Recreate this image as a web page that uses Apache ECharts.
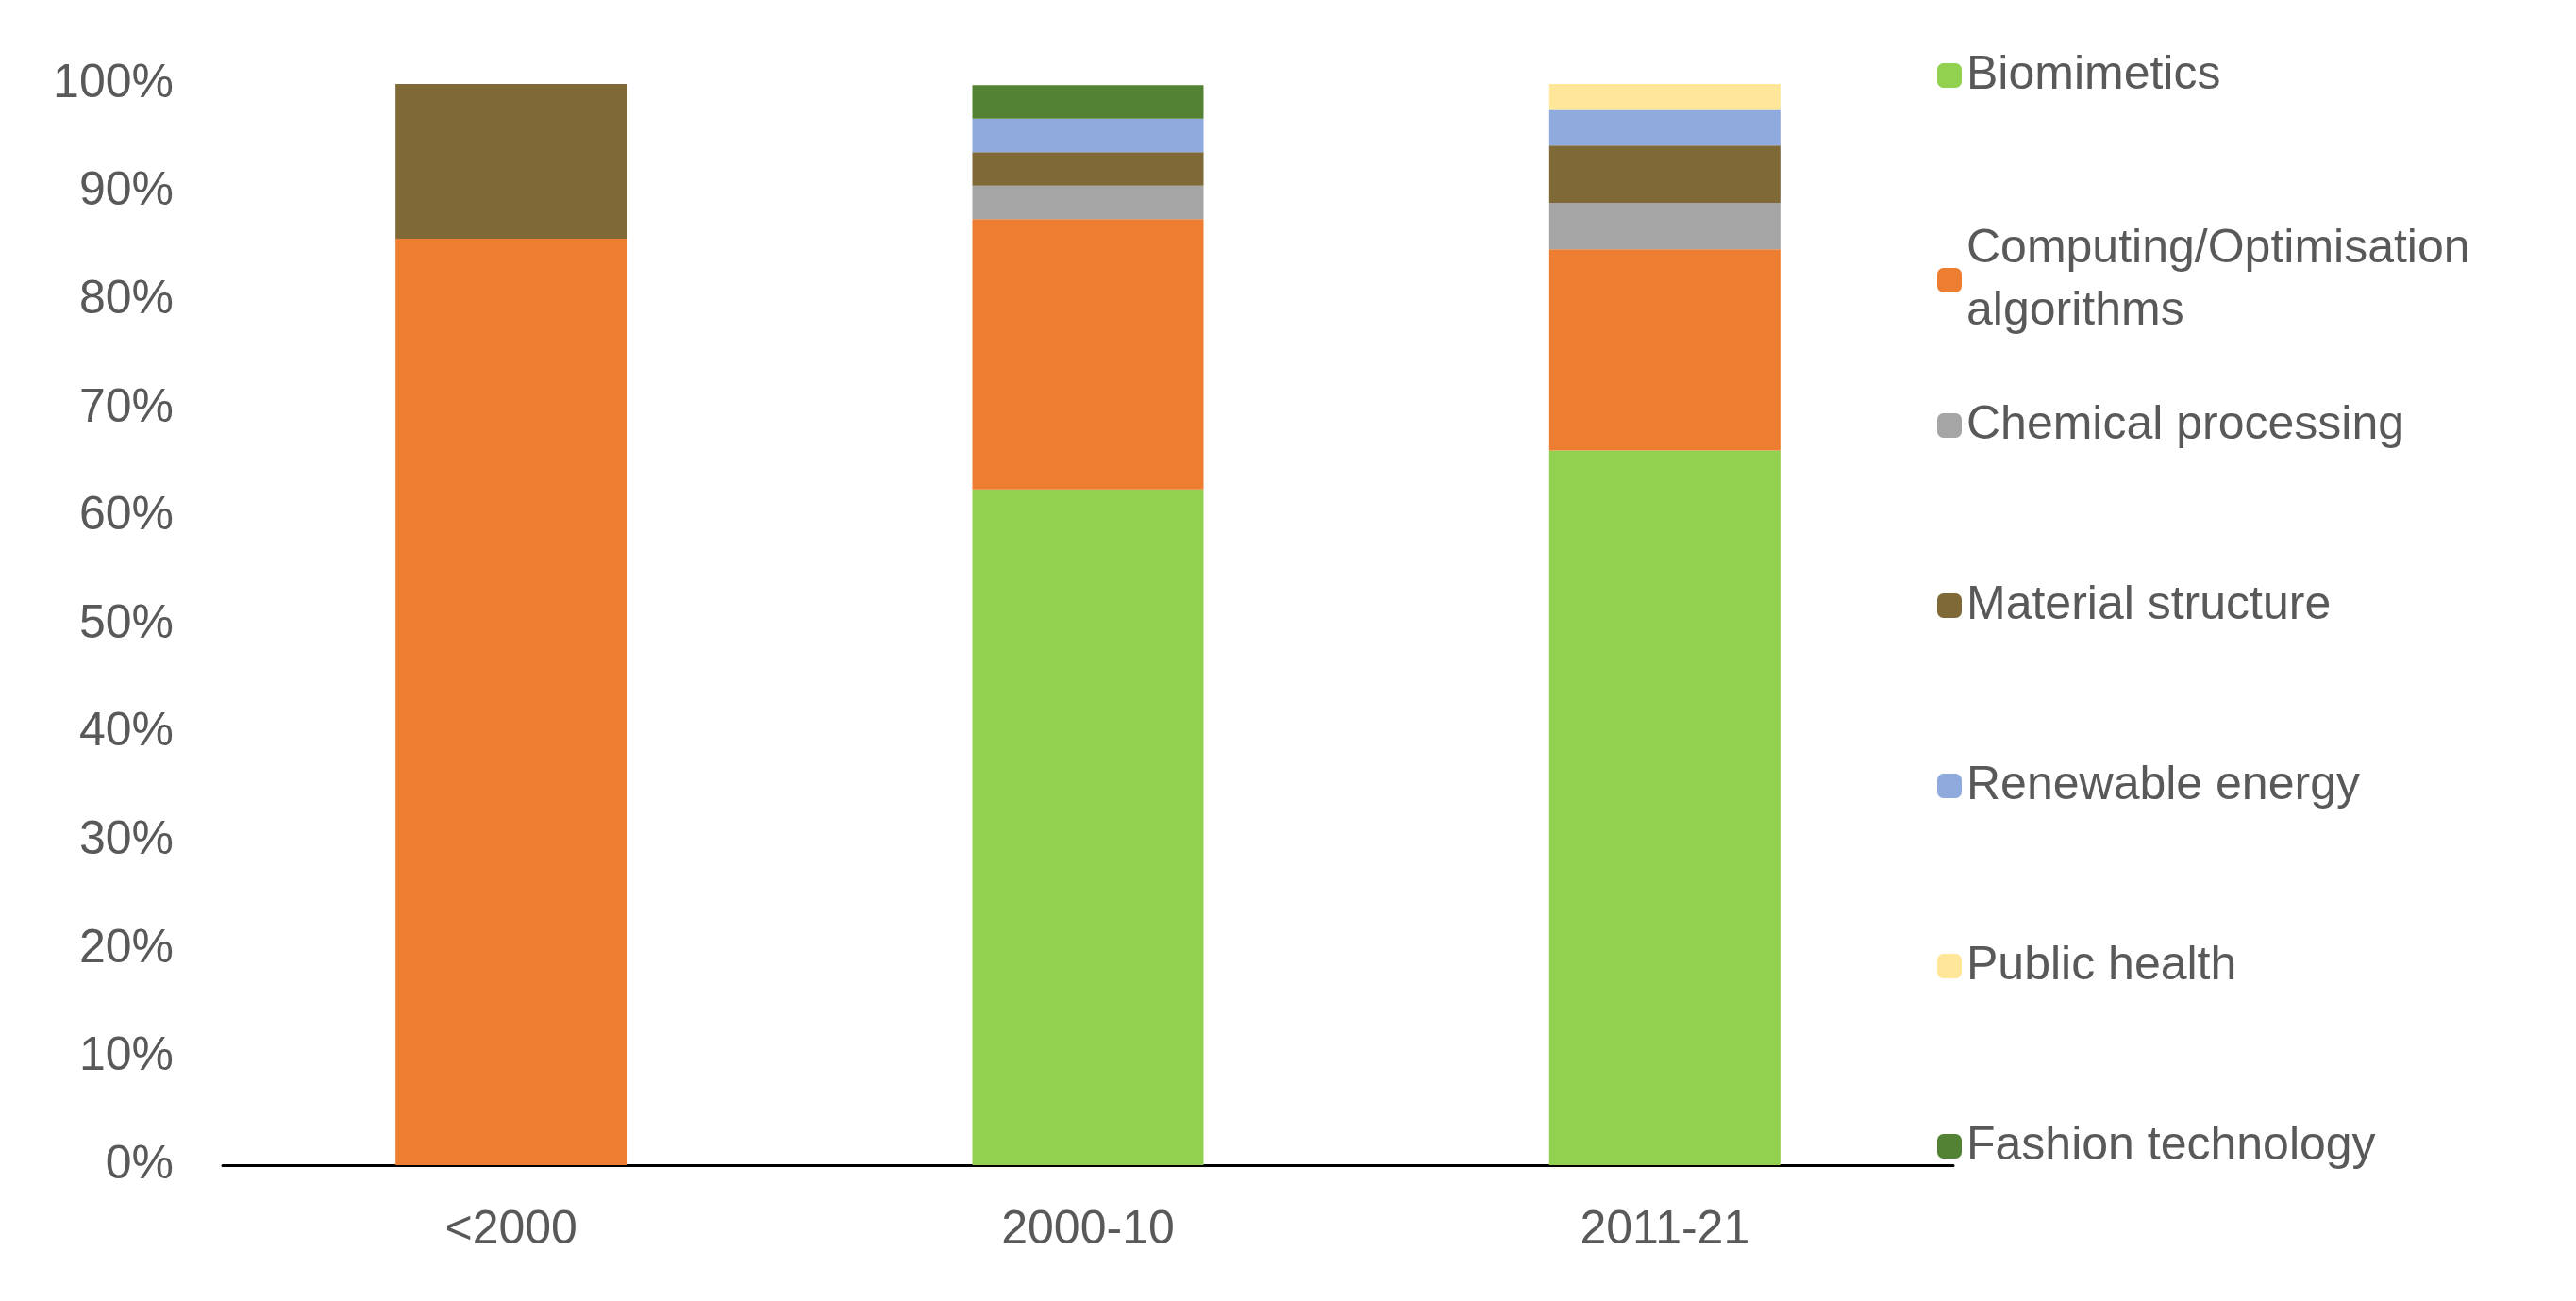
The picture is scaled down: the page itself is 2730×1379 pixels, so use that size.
<!DOCTYPE html>
<html>
<head>
<meta charset="utf-8">
<script src="https://cdn.jsdelivr.net/npm/echarts@6/dist/echarts.min.js"></script>
<style>html,body{margin:0;background:#fff}#chart{width:2730px;height:1379px}</style>
</head>
<body>
<div id="chart"></div>
<script>
const periods = ['<2000', '2000-10', '2011-21'];
const biomimetics = [0, 62.5, 66.1];
const computing = [85.7, 25.0, 18.6];
const chemical = [0, 3.1, 4.3];
const material = [14.3, 3.1, 5.3];
const renewable = [0, 3.1, 3.3];
const publicHealth = [0, 0, 2.4];
const fashion = [0, 3.1, 0];
const yTicks = [0, 10, 20, 30, 40, 50, 60, 70, 80, 90, 100];

const font = 'Liberation Sans';
let chart = echarts.init(document.getElementById('chart'));

function bar(name, data, color) {
  return { name: name, type: 'bar', stack: 'all', data: data, barWidth: 245, itemStyle: { color: color } };
}

const legendBase = {
  orient: 'vertical', left: 2048, itemWidth: 26, itemHeight: 26,
  textStyle: { fontFamily: font, fontSize: 50, color: '#595959', lineHeight: 66 },
  itemGap: 125, selectedMode: false
};

chart.setOption({
  animation: false,
  grid: { left: 236, right: 660, top: 89, bottom: 144 },
  legend: [
    Object.assign({}, legendBase, { top: 42, data: ['Biomimetics'] }),
    Object.assign({}, legendBase, { top: 226, data: ['Computing/Optimisation\nalgorithms'] }),
    Object.assign({}, legendBase, { top: 413, data: ['Chemical processing', 'Material structure', 'Renewable energy', 'Public health', 'Fashion technology'] })
  ],
  xAxis: {
    type: 'category', data: periods,
    axisLine: { lineStyle: { color: '#000', width: 3 } },
    axisTick: { show: false },
    axisLabel: { fontFamily: font, fontSize: 50, color: '#595959', margin: 44 }
  },
  yAxis: {
    type: 'value', min: 0, max: 100, interval: 10,
    splitLine: { show: false },
    axisLine: { show: false },
    axisLabel: { fontFamily: font, fontSize: 50, color: '#595959', margin: 52,
      formatter: v => yTicks.includes(v) ? v + '%' : '' }
  },
  series: [
    bar('Biomimetics', biomimetics, '#92D050'),
    bar('Computing/Optimisation\nalgorithms', computing, '#ED7D31'),
    bar('Chemical processing', chemical, '#A5A5A5'),
    bar('Material structure', material, '#7F6A37'),
    bar('Renewable energy', renewable, '#8FAADC'),
    bar('Public health', publicHealth, '#FFE699'),
    bar('Fashion technology', fashion, '#548235')
  ]
});
</script>
</body>
</html>
